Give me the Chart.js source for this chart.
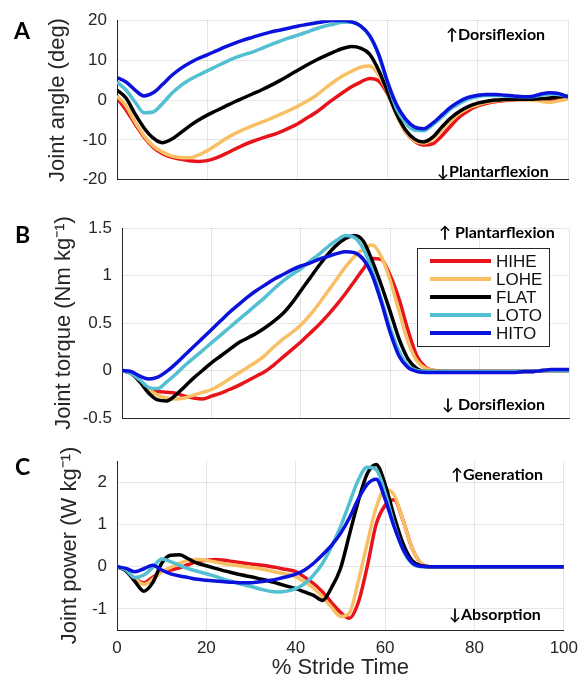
<!DOCTYPE html>
<html><head><meta charset="utf-8">
<script src="https://cdn.jsdelivr.net/npm/chart.js@4.4.1/dist/chart.umd.min.js"></script>
<style>
html,body{margin:0;padding:0;background:#fff;width:586px;height:683px;overflow:hidden}
canvas{position:absolute;left:0}
#cA{top:0}#cB{top:195px}#cC{top:430px}
</style></head><body>
<canvas id="cA" width="586" height="200"></canvas>
<canvas id="cB" width="586" height="260"></canvas>
<canvas id="cC" width="586" height="253"></canvas>
<script>
// ---------- data ----------
const strideTime = [0,2,4,6,8,10,12,14,16,18,20,22,24,26,28,30,32,34,36,38,40,42,44,46,48,50,52,54,56,58,60,62,64,66,68,70,72,74,76,78,80,82,84,86,88,90,92,94,96,98,100];
const seriesNames = ['HIHE','LOHE','FLAT','LOTO','HITO'];
const xTicks = [0,20,40,60,80,100];
const yTicksAngle = [-20,-10,0,10,20];
const yTicksTorque = [-0.5,0,0.5,1,1.5];
const yTicksPower = [-1,0,1,2];

// Panel A: joint angle (deg)
const angleHIHE = [0.5,-2.5,-6.0,-9.3,-11.8,-13.4,-14.3,-14.8,-15.2,-15.4,-15.2,-14.5,-13.5,-12.4,-11.3,-10.4,-9.6,-8.9,-8.1,-7.1,-6.0,-4.6,-3.2,-1.5,0.2,1.8,3.3,4.5,5.4,4.8,1.5,-3.5,-8.0,-10.3,-11.3,-11.0,-9.0,-6.5,-4.2,-2.6,-1.5,-0.8,-0.4,-0.1,0.0,0.1,0.1,0.1,0.2,0.5,1.0];
const angleLOHE = [1.0,-1.5,-5.5,-9.0,-11.5,-13.0,-14.0,-14.4,-14.5,-13.8,-12.7,-11.3,-9.8,-8.5,-7.4,-6.5,-5.6,-4.7,-3.7,-2.7,-1.6,-0.4,1.0,2.8,4.5,6.0,7.2,8.2,8.5,6.3,1.8,-3.8,-8.0,-10.2,-10.8,-9.8,-7.5,-5.2,-3.3,-2.0,-1.2,-0.6,-0.2,0.0,0.1,0.1,0.0,-0.3,-0.6,-0.2,0.3];
const angleFLAT = [2.5,0.5,-3.5,-7.0,-9.5,-10.7,-9.9,-8.3,-6.6,-5.1,-3.8,-2.7,-1.6,-0.5,0.5,1.5,2.5,3.6,4.8,6.1,7.4,8.7,9.9,11.0,12.0,12.9,13.4,13.0,11.5,7.5,2.0,-3.5,-7.5,-9.8,-10.5,-9.3,-6.8,-4.5,-2.8,-1.6,-0.8,-0.3,0.0,0.1,0.2,0.2,0.2,0.3,0.5,0.8,1.0];
const angleLOTO = [4.5,2.5,-0.5,-3.2,-3.0,-1.0,1.5,3.5,5.0,6.2,7.3,8.4,9.5,10.5,11.3,12.0,12.9,13.8,14.7,15.5,16.2,17.0,17.8,18.5,19.0,19.5,19.5,18.5,16.0,11.3,4.3,-2.2,-5.8,-7.6,-7.7,-6.2,-4.3,-2.2,-0.8,0.3,0.9,1.1,1.1,1.0,0.9,0.8,0.8,1.2,1.5,1.4,0.9];
const angleHITO = [5.6,4.5,2.5,1.0,1.8,3.8,6.0,7.8,9.2,10.4,11.3,12.3,13.3,14.2,15.0,15.7,16.4,17.0,17.5,18.0,18.5,18.9,19.3,19.7,19.9,19.9,19.6,18.6,16.2,11.5,4.5,-1.2,-4.8,-6.8,-7.2,-5.8,-3.8,-1.8,-0.3,0.7,1.2,1.4,1.4,1.2,1.0,0.8,0.9,1.5,1.8,1.6,0.7];

// Panel B: joint torque (Nm kg^-1)
const torqueHIHE = [0,-0.03,-0.11,-0.19,-0.22,-0.23,-0.24,-0.27,-0.29,-0.30,-0.27,-0.24,-0.20,-0.16,-0.11,-0.06,-0.01,0.06,0.14,0.22,0.30,0.39,0.48,0.58,0.69,0.81,0.94,1.07,1.18,1.17,1.00,0.75,0.42,0.15,0.03,0.0,-0.01,-0.01,-0.01,-0.01,-0.01,-0.01,-0.01,-0.01,-0.01,-0.01,-0.01,0.0,0.0,0.0,0.0];
const torqueLOHE = [0,-0.03,-0.12,-0.20,-0.26,-0.29,-0.30,-0.29,-0.26,-0.23,-0.20,-0.15,-0.09,-0.03,0.03,0.09,0.16,0.25,0.33,0.40,0.48,0.58,0.70,0.83,0.96,1.09,1.20,1.28,1.32,1.20,0.95,0.62,0.30,0.10,0.02,0.0,-0.01,-0.01,-0.01,-0.01,-0.01,-0.01,-0.01,-0.01,-0.01,-0.01,-0.01,0.0,0.0,0.0,0.0];
const torqueFLAT = [0,-0.03,-0.12,-0.24,-0.31,-0.32,-0.26,-0.17,-0.08,0.0,0.08,0.15,0.22,0.29,0.34,0.39,0.45,0.52,0.60,0.71,0.84,0.97,1.10,1.22,1.32,1.39,1.42,1.36,1.15,0.90,0.62,0.33,0.12,0.02,-0.01,-0.01,-0.01,-0.01,-0.01,-0.01,-0.01,-0.01,-0.01,-0.01,-0.01,-0.01,-0.01,0.0,0.0,0.0,0.0];
const torqueLOTO = [0,-0.03,-0.10,-0.18,-0.19,-0.12,-0.04,0.05,0.13,0.21,0.29,0.37,0.45,0.53,0.61,0.69,0.77,0.86,0.94,1.01,1.07,1.15,1.22,1.30,1.37,1.42,1.40,1.28,1.05,0.75,0.45,0.20,0.05,0.0,-0.01,-0.01,-0.01,-0.01,-0.01,-0.01,-0.01,-0.01,-0.01,-0.01,-0.01,-0.01,-0.01,0.0,0.0,0.0,0.0];
const torqueHITO = [0,-0.01,-0.06,-0.09,-0.07,-0.01,0.07,0.16,0.25,0.34,0.43,0.52,0.61,0.69,0.77,0.84,0.90,0.96,1.01,1.06,1.10,1.13,1.17,1.20,1.23,1.25,1.24,1.17,1.00,0.72,0.40,0.15,0.03,-0.01,-0.02,-0.02,-0.02,-0.02,-0.02,-0.02,-0.02,-0.02,-0.02,-0.02,-0.02,-0.01,-0.01,0.0,0.01,0.01,0.01];

// Panel C: joint power (W kg^-1)
const powerHIHE = [0,-0.08,-0.28,-0.38,-0.25,-0.12,-0.08,-0.03,0.05,0.12,0.15,0.17,0.15,0.12,0.09,0.06,0.04,0.01,-0.03,-0.07,-0.12,-0.25,-0.40,-0.60,-0.85,-1.08,-1.22,-0.85,0.0,1.0,1.45,1.58,1.10,0.45,0.08,0.0,0,0,0,0,0,0,0,0,0,0,0,0,0,0,0];
const powerLOHE = [0,-0.08,-0.28,-0.42,-0.30,-0.12,-0.02,0.08,0.15,0.17,0.15,0.11,0.07,0.04,0.01,-0.02,-0.05,-0.09,-0.14,-0.18,-0.24,-0.36,-0.51,-0.72,-0.96,-1.18,-1.10,-0.35,0.55,1.40,1.82,1.70,1.10,0.45,0.08,0.0,0,0,0,0,0,0,0,0,0,0,0,0,0,0,0];
const powerFLAT = [0,-0.10,-0.35,-0.58,-0.38,0.08,0.27,0.28,0.18,0.08,0.02,-0.04,-0.10,-0.15,-0.20,-0.24,-0.29,-0.34,-0.40,-0.46,-0.52,-0.60,-0.68,-0.80,-0.50,-0.05,0.75,1.55,2.20,2.42,1.95,1.20,0.55,0.15,0.02,0.0,0,0,0,0,0,0,0,0,0,0,0,0,0,0,0];
const powerLOTO = [0,-0.08,-0.26,-0.20,-0.02,0.18,0.12,0.03,-0.05,-0.11,-0.17,-0.23,-0.30,-0.36,-0.42,-0.47,-0.53,-0.58,-0.60,-0.58,-0.52,-0.40,-0.20,0.08,0.47,0.94,1.50,2.05,2.35,2.30,1.75,1.00,0.40,0.08,0.0,0.0,0,0,0,0,0,0,0,0,0,0,0,0,0,0,0];
const powerHITO = [0,-0.04,-0.12,-0.05,0.03,-0.08,-0.17,-0.22,-0.26,-0.30,-0.32,-0.34,-0.36,-0.37,-0.38,-0.38,-0.36,-0.33,-0.29,-0.24,-0.18,-0.08,0.08,0.28,0.50,0.78,1.15,1.60,1.95,2.07,1.60,0.95,0.42,0.10,0.01,0.0,0,0,0,0,0,0,0,0,0,0,0,0,0,0,0];

// ---------- styling ----------
const lineColors = ['#e8141c','#f8c064','#000000','#52bfd2','#0a12dc'];
const sansFamily = '"Liberation Sans", Arial, Helvetica, sans-serif';
const boldFamily = 'Lato, "Open Sans", "DejaVu Sans", sans-serif';
const ink = '#262626';

const panelDecor = {
  id: 'panelDecor',
  afterDatasetsDraw(chart, args, opts) {
    const ctx = chart.ctx;
    ctx.save();
    ctx.fillStyle = '#000';
    ctx.textAlign = 'left';
    ctx.textBaseline = 'alphabetic';
    ctx.font = 'bold 23px ' + boldFamily;
    ctx.fillText(opts.letter, opts.letterX, opts.letterY);
    ctx.font = 'bold 16px ' + boldFamily;
    ctx.textBaseline = 'middle';
    for (const n of opts.notes) ctx.fillText(n.text, n.x, n.y);
    const L = opts.legend;
    if (L) {
      ctx.fillStyle = '#fff';
      ctx.fillRect(L.x, L.y, L.w, L.h);
      ctx.strokeStyle = ink; ctx.lineWidth = 1;
      ctx.strokeRect(L.x + 0.5, L.y + 0.5, L.w, L.h);
      ctx.font = '17px ' + sansFamily;
      chart.data.datasets.forEach((ds, i) => {
        const yy = L.y + L.first + i * L.rowH;
        ctx.strokeStyle = ds.borderColor; ctx.lineWidth = 4;
        ctx.beginPath(); ctx.moveTo(L.x + 13, yy); ctx.lineTo(L.x + 74, yy); ctx.stroke();
        ctx.fillStyle = '#111';
        ctx.fillText(ds.label, L.x + 79, yy + 1);
      });
    }
    ctx.restore();
  }
};

function makeChart(id, series, yTicks, cfg) {
  return new Chart(document.getElementById(id), {
    type: 'line',
    data: {
      datasets: series.map((vals, i) => ({
        label: seriesNames[i],
        data: strideTime.map((x, j) => ({x: x, y: vals[j]})),
        borderColor: lineColors[i],
        backgroundColor: lineColors[i],
        borderWidth: 3.5,
        pointRadius: 0,
        fill: false,
        cubicInterpolationMode: 'monotone',
        order: series.length - 1 - i
      }))
    },
    options: {
      responsive: false, animation: false, devicePixelRatio: 1,
      layout: {padding: {left: 0, right: cfg.padR, top: cfg.padT, bottom: cfg.padB}},
      plugins: {legend: {display: false}, tooltip: {enabled: false}, panelDecor: cfg.decor},
      scales: {
        x: {
          type: 'linear', min: 0, max: 100,
          afterBuildTicks: s => { s.ticks = xTicks.map(v => ({value: v})); },
          afterFit: s => { s.height = cfg.xH; },
          grid: {color: 'rgba(0,0,0,0.1)', drawTicks: false, lineWidth: 1},
          border: {color: ink, width: 1},
          ticks: {display: cfg.xLabels, color: ink, font: {family: sansFamily, size: 17}, padding: 8, maxRotation: 0, autoSkip: false, callback: v => String(v)},
          title: {display: cfg.xLabels, text: '% Stride Time', color: ink, font: {family: sansFamily, size: 22}, padding: {top: 0, bottom: 2}}
        },
        y: {
          type: 'linear', min: cfg.yMin, max: cfg.yMax,
          afterBuildTicks: s => { s.ticks = yTicks.map(v => ({value: v})); },
          afterFit: s => { s.width = cfg.plotLeft; },
          grid: {color: 'rgba(0,0,0,0.1)', drawTicks: false, lineWidth: 1},
          border: {color: ink, width: 1},
          ticks: {color: ink, font: {family: sansFamily, size: 17}, padding: 10, callback: v => String(v)},
          title: {display: true, text: cfg.yTitle, color: ink, font: {family: sansFamily, size: 22}, padding: {top: cfg.titlePad, bottom: 0}}
        }
      }
    },
    plugins: [panelDecor]
  });
}

makeChart('cA', [angleHIHE, angleLOHE, angleFLAT, angleLOTO, angleHITO], yTicksAngle, {
  padR: 18, padT: 19, padB: 15, xH: 0, xLabels: false, plotLeft: 117,
  yMin: -20, yMax: 20, yTitle: 'Joint angle (deg)', titlePad: 45,
  decor: {letter: 'A', letterX: 14, letterY: 39,
    notes: [{text: '\u2191Dorsiflexion', x: 446, y: 35}, {text: '\u2193Plantarflexion', x: 437, y: 172}]}
});
makeChart('cB', [torqueHIHE, torqueLOHE, torqueFLAT, torqueLOTO, torqueHITO], yTicksTorque, {
  padR: 17, padT: 33, padB: 37, xH: 0, xLabels: false, plotLeft: 122,
  yMin: -0.5, yMax: 1.5, yTitle: 'Joint torque (Nm kg\u207B\u00B9)', titlePad: 51,
  decor: {letter: 'B', letterX: 15, letterY: 48,
    notes: [{text: '\u2191 Plantarflexion', x: 439, y: 38}, {text: '\u2193 Dorsiflexion', x: 442, y: 210}],
    legend: {x: 417, y: 53, w: 132, h: 98, first: 13, rowH: 18}}
});
makeChart('cC', [powerHIHE, powerLOHE, powerFLAT, powerLOTO, powerHITO], yTicksPower, {
  padR: 18, padT: 31, padB: 0, xH: 53, xLabels: true, plotLeft: 117,
  yMin: -1.5, yMax: 2.5, yTitle: 'Joint power (W kg\u207B\u00B9)', titlePad: 57,
  decor: {letter: 'C', letterX: 15, letterY: 45,
    notes: [{text: '\u2191Generation', x: 451, y: 45}, {text: '\u2193Absorption', x: 449, y: 185}]}
});
</script>
</body></html>
